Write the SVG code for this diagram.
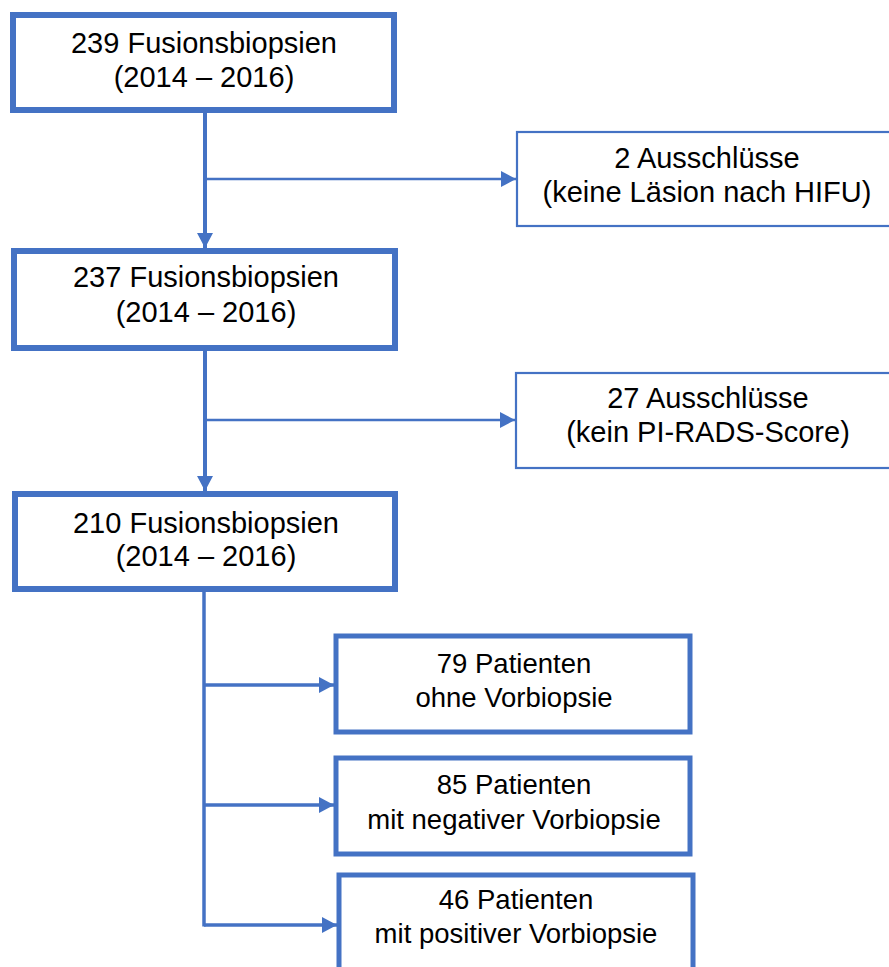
<svg xmlns="http://www.w3.org/2000/svg" width="889" height="967" viewBox="0 0 889 967">
<style>
.thick{fill:#fff;stroke:#4472C4;stroke-width:6}
.mid{fill:#fff;stroke:#4472C4;stroke-width:5}
.thin{fill:#fff;stroke:#4472C4;stroke-width:2.2}
.c{fill:none;stroke:#4472C4}
text{font-family:"Liberation Sans",Arial,sans-serif;font-size:29px;fill:#000;text-anchor:middle}
text.s{font-size:27.5px}
</style>
<defs>
<marker id="ah" markerUnits="userSpaceOnUse" markerWidth="15" markerHeight="16" refX="15" refY="8" orient="auto" viewBox="0 0 15 16">
<path d="M0,0 L15,8 L0,16 z" fill="#4472C4"/>
</marker>
</defs>
<g id="connectors">
<line class="c" stroke-width="4" x1="205" y1="113" x2="205" y2="248" marker-end="url(#ah)"/>
<line class="c" stroke-width="2.5" x1="205" y1="179" x2="516" y2="179" marker-end="url(#ah)"/>
<line class="c" stroke-width="4" x1="205" y1="351" x2="205" y2="491" marker-end="url(#ah)"/>
<line class="c" stroke-width="2.5" x1="205" y1="420" x2="515" y2="420" marker-end="url(#ah)"/>
<line class="c" stroke-width="3.5" x1="204" y1="592" x2="204" y2="926.5"/>
<line class="c" stroke-width="3.5" x1="204" y1="685" x2="334" y2="685" marker-end="url(#ah)"/>
<line class="c" stroke-width="3.5" x1="204" y1="805" x2="334" y2="805" marker-end="url(#ah)"/>
<line class="c" stroke-width="3.5" x1="204" y1="925" x2="337" y2="925" marker-end="url(#ah)"/>
</g>
<g id="n1">
<rect class="thick" x="13" y="15" width="381" height="95"/>
<text x="204" y="53">239 Fusionsbiopsien</text>
<text x="204" y="87">(2014 – 2016)</text>
</g>
<g id="n2">
<rect class="thin" x="517" y="132" width="380" height="94"/>
<text x="707" y="168">2 Ausschlüsse</text>
<text x="707" y="202">(keine Läsion nach HIFU)</text>
</g>
<g id="n3">
<rect class="thick" x="14" y="251" width="381" height="97"/>
<text x="206" y="287">237 Fusionsbiopsien</text>
<text x="206" y="322">(2014 – 2016)</text>
</g>
<g id="n4">
<rect class="thin" x="516" y="373" width="380" height="95"/>
<text x="708" y="408">27 Ausschlüsse</text>
<text x="708" y="442">(kein PI-RADS-Score)</text>
</g>
<g id="n5">
<rect class="thick" x="15" y="494" width="380" height="95"/>
<text x="206" y="533">210 Fusionsbiopsien</text>
<text x="206" y="566">(2014 – 2016)</text>
</g>
<g id="n6">
<rect class="mid" x="336" y="636" width="354" height="96"/>
<text class="s" x="514" y="673">79 Patienten</text>
<text class="s" x="514" y="707">ohne Vorbiopsie</text>
</g>
<g id="n7">
<rect class="mid" x="336" y="758" width="354" height="96"/>
<text class="s" x="514" y="794">85 Patienten</text>
<text class="s" x="514" y="829">mit negativer Vorbiopsie</text>
</g>
<g id="n8">
<rect class="mid" x="339" y="875" width="354" height="100"/>
<text class="s" x="516" y="909">46 Patienten</text>
<text class="s" x="516" y="943">mit positiver Vorbiopsie</text>
</g>
</svg>
